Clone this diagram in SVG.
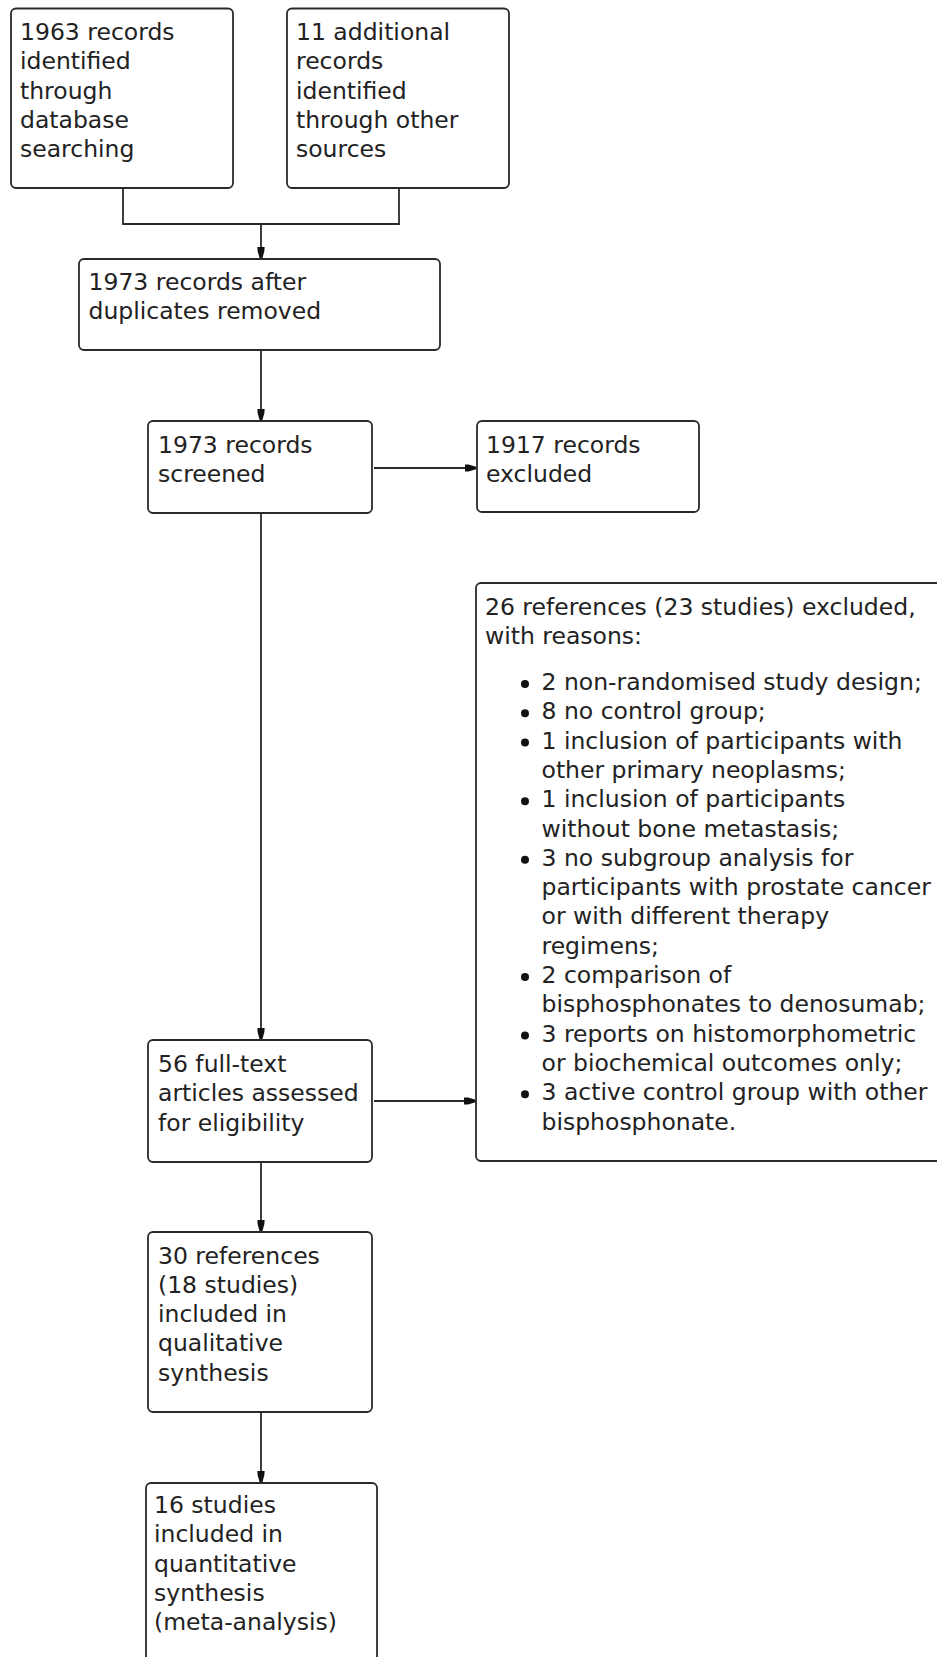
<svg xmlns="http://www.w3.org/2000/svg" width="937" height="1657" viewBox="0 0 937 1657">
<style>
  .box { fill: #ffffff; stroke: #2a2a2a; stroke-width: 1.8; }
  .t { font-family: "DejaVu Sans", "Liberation Sans", sans-serif; font-size: 23.5px; fill: #222222; }
  .ln { fill: none; stroke: #2a2a2a; stroke-width: 1.8; }
  .dot { fill: #111111; }
</style>
<defs>
  <marker id="ah" viewBox="0 -4 12 8" markerWidth="12" markerHeight="8" refX="11.5" refY="0" orient="auto" markerUnits="userSpaceOnUse">
    <path d="M0,-3.6 L4,-3.4 L11.5,-1.3 L11.5,1.3 L4,3.4 L0,3.6 Z" fill="#111111"/>
  </marker>
</defs>
<rect width="937" height="1657" fill="#ffffff"/>

<g id="connectors">
  <path class="ln" d="M123,188 V224 H399 V188"/>
  <path class="ln" d="M261,224 V258.5" marker-end="url(#ah)"/>
  <path class="ln" d="M261,350 V420.5" marker-end="url(#ah)"/>
  <path class="ln" d="M374,468 H476" marker-end="url(#ah)"/>
  <path class="ln" d="M261,513 V1039.5" marker-end="url(#ah)"/>
  <path class="ln" d="M374,1101 H475.5" marker-end="url(#ah)"/>
  <path class="ln" d="M261,1162 V1231.5" marker-end="url(#ah)"/>
  <path class="ln" d="M261,1412 V1482.5" marker-end="url(#ah)"/>
</g>

<g id="n1">
  <rect class="box" x="11" y="8.5" width="222" height="179.5" rx="5"/>
  <text class="t" x="20" y="40"><tspan x="20">1963 records</tspan><tspan x="20" dy="29.3">identified</tspan><tspan x="20" dy="29.3">through</tspan><tspan x="20" dy="29.3">database</tspan><tspan x="20" dy="29.3">searching</tspan></text>
</g>

<g id="n2">
  <rect class="box" x="287" y="8.5" width="222" height="179.5" rx="5"/>
  <text class="t" x="296" y="40"><tspan x="296">11 additional</tspan><tspan x="296" dy="29.3">records</tspan><tspan x="296" dy="29.3">identified</tspan><tspan x="296" dy="29.3">through other</tspan><tspan x="296" dy="29.3">sources</tspan></text>
</g>

<g id="n3">
  <rect class="box" x="79" y="259" width="361" height="91" rx="5"/>
  <text class="t" x="88.5" y="290"><tspan x="88.5">1973 records after</tspan><tspan x="88.5" dy="29.3">duplicates removed</tspan></text>
</g>

<g id="n4">
  <rect class="box" x="148" y="421" width="224" height="92" rx="5"/>
  <text class="t" x="158" y="453"><tspan x="158">1973 records</tspan><tspan x="158" dy="29.3">screened</tspan></text>
</g>

<g id="n5">
  <rect class="box" x="477" y="421" width="222" height="91" rx="5"/>
  <text class="t" x="486" y="453"><tspan x="486">1917 records</tspan><tspan x="486" dy="29.3">excluded</tspan></text>
</g>

<g id="n7">
  <rect class="box" x="476" y="583" width="480" height="578" rx="5"/>
  <text class="t" x="485" y="615"><tspan x="485">26 references (23 studies) excluded,</tspan><tspan x="485" dy="29.3">with reasons:</tspan></text>
  <circle class="dot" cx="525" cy="684" r="4"/>
  <circle class="dot" cx="525" cy="713.3" r="4"/>
  <circle class="dot" cx="525" cy="742.6" r="4"/>
  <circle class="dot" cx="525" cy="801.2" r="4"/>
  <circle class="dot" cx="525" cy="859.8" r="4"/>
  <circle class="dot" cx="525" cy="977" r="4"/>
  <circle class="dot" cx="525" cy="1035.6" r="4"/>
  <circle class="dot" cx="525" cy="1094.2" r="4"/>
  <text class="t" x="541.5" y="690"><tspan x="541.5">2 non-randomised study design;</tspan><tspan x="541.5" dy="29.3">8 no control group;</tspan><tspan x="541.5" dy="29.3">1 inclusion of participants with</tspan><tspan x="541.5" dy="29.3">other primary neoplasms;</tspan><tspan x="541.5" dy="29.3">1 inclusion of participants</tspan><tspan x="541.5" dy="29.3">without bone metastasis;</tspan><tspan x="541.5" dy="29.3">3 no subgroup analysis for</tspan><tspan x="541.5" dy="29.3">participants with prostate cancer</tspan><tspan x="541.5" dy="29.3">or with different therapy</tspan><tspan x="541.5" dy="29.3">regimens;</tspan><tspan x="541.5" dy="29.3">2 comparison of</tspan><tspan x="541.5" dy="29.3">bisphosphonates to denosumab;</tspan><tspan x="541.5" dy="29.3">3 reports on histomorphometric</tspan><tspan x="541.5" dy="29.3">or biochemical outcomes only;</tspan><tspan x="541.5" dy="29.3">3 active control group with other</tspan><tspan x="541.5" dy="29.3">bisphosphonate.</tspan></text>
</g>

<g id="n6">
  <rect class="box" x="148" y="1040" width="224" height="122" rx="5"/>
  <text class="t" x="158" y="1072"><tspan x="158">56 full-text</tspan><tspan x="158" dy="29.3">articles assessed</tspan><tspan x="158" dy="29.3">for eligibility</tspan></text>
</g>

<g id="n8">
  <rect class="box" x="148" y="1232" width="224" height="180" rx="5"/>
  <text class="t" x="158" y="1263.5"><tspan x="158">30 references</tspan><tspan x="158" dy="29.3">(18 studies)</tspan><tspan x="158" dy="29.3">included in</tspan><tspan x="158" dy="29.3">qualitative</tspan><tspan x="158" dy="29.3">synthesis</tspan></text>
</g>

<g id="n9">
  <rect class="box" x="146" y="1483" width="231" height="220" rx="5"/>
  <text class="t" x="154" y="1513"><tspan x="154">16 studies</tspan><tspan x="154" dy="29.3">included in</tspan><tspan x="154" dy="29.3">quantitative</tspan><tspan x="154" dy="29.3">synthesis</tspan><tspan x="154" dy="29.3">(meta-analysis)</tspan></text>
</g>
</svg>
